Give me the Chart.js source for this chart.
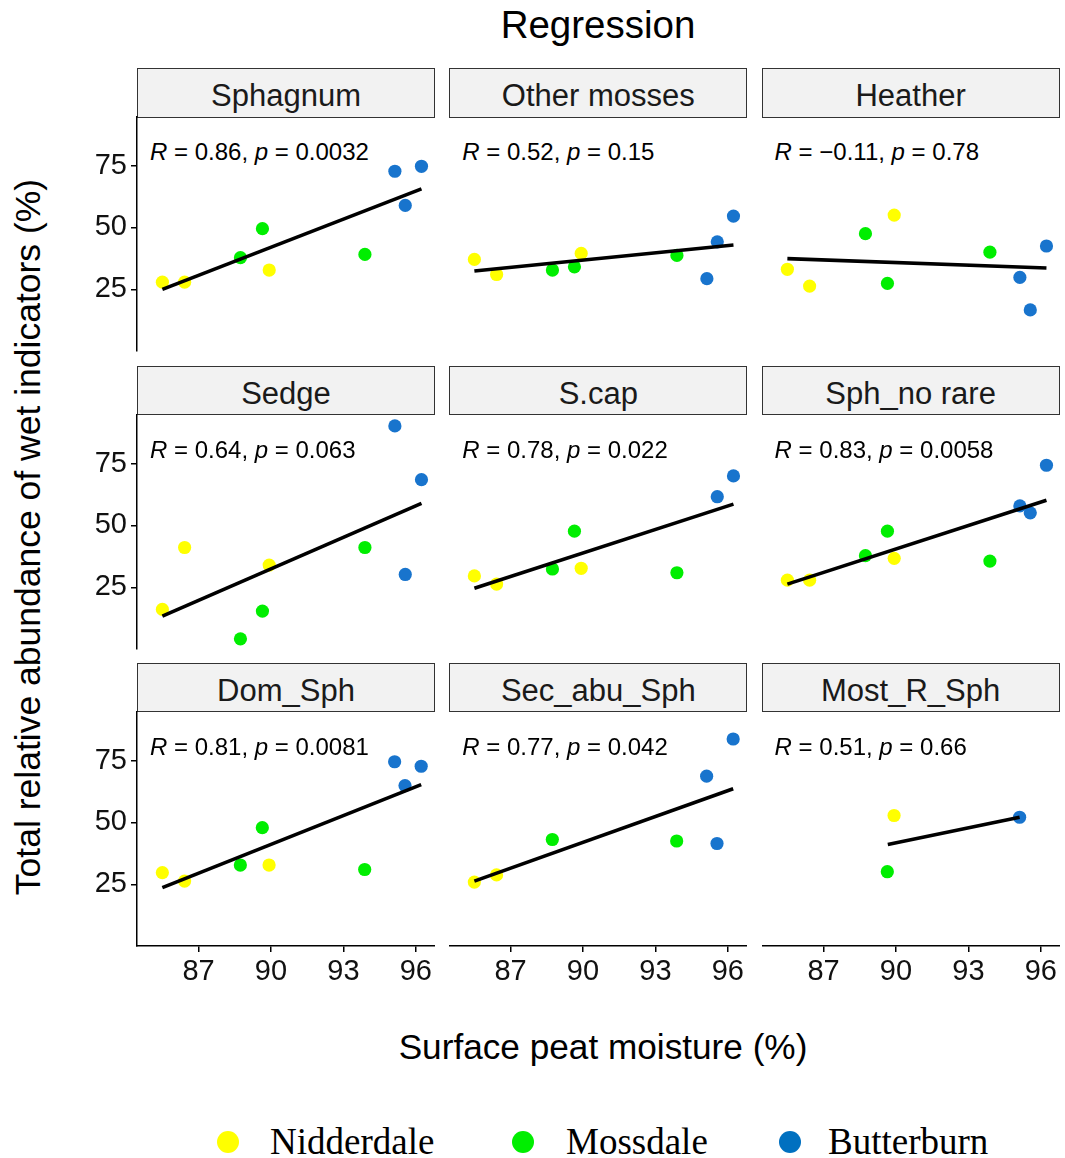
<!DOCTYPE html>
<html>
<head>
<meta charset="utf-8">
<script src="https://cdn.jsdelivr.net/npm/chart.js@4.4.1/dist/chart.umd.min.js"></script>
<style>
  html, body { margin: 0; padding: 0; background: #fff; }
  body { width: 1065px; height: 1158px; position: relative; overflow: hidden; font-family: "Liberation Sans", Arial, sans-serif; }
  .abs { position: absolute; }
  canvas { position: absolute; }
  .strip { position: absolute; box-sizing: border-box; background: #F2F2F2; border: 1.5px solid #333; color: #1A1A1A; font-size: 31px; text-align: center; }
  .rlab { position: absolute; font-size: 24px; color: #000; white-space: nowrap; line-height: 1; }
  .legtxt { position: absolute; font-family: "Liberation Serif", "Times New Roman", serif; font-size: 37px; color: #000; line-height: 1; white-space: nowrap; }
  .legdot { position: absolute; width: 22px; height: 22px; border-radius: 50%; }
</style>
</head>
<body>
<div id="root"></div>
<script>
// ---------------- DATA ----------------
const panelNames = ['Sphagnum', 'Other mosses', 'Heather', 'Sedge', 'S.cap', 'Sph_no rare', 'Dom_Sph', 'Sec_abu_Sph', 'Most_R_Sph'];
const corrLabels = [
  ['0.86', '0.0032'], ['0.52', '0.15'], ['\u22120.11', '0.78'],
  ['0.64', '0.063'], ['0.78', '0.022'], ['0.83', '0.0058'],
  ['0.81', '0.0081'], ['0.77', '0.042'], ['0.51', '0.66']
];
const siteNames = ['Nidderdale', 'Mossdale', 'Butterburn'];
// surface peat moisture (%) of the three plots per site
const xNidderdale = [85.50, 86.42, 89.92];
const xMossdale   = [88.73, 89.64, 93.88];
const xButterburn = [95.12, 95.55, 96.22];
// total relative abundance (%) per panel (null = not present)
const yNidderdale = [
  [27.9, 27.9, 32.8], [37.1, 31.0, 39.5], [33.1, 26.3, 55.0],
  [16.1, 41.1, 34.0], [29.6, 26.3, 32.7], [27.9, 27.9, 36.7],
  [29.7, 26.3, 32.8], [25.9, 28.8, null], [null, null, 52.8]
];
const yMossdale = [
  [37.8, 49.5, 39.1], [32.8, 34.1, 38.7], [47.5, 27.4, 40.0],
  [4.2, 15.4, 41.1], [32.4, 47.7, 30.9], [37.8, 47.7, 35.6],
  [32.8, 47.9, 31.0], [43.1, null, 42.5], [null, 30.1, null]
];
const yButterburn = [
  [72.7, 58.9, 74.7], [29.3, 44.2, 54.6], [29.8, 16.7, 42.5],
  [90.2, 30.2, 68.5], [null, 61.6, 70.0], [57.9, 55.1, 74.3],
  [74.5, 64.9, 72.7], [68.7, 41.5, 83.7], [52.1, null, null]
];
// fitted regression line end points per panel
const fitX = [
  [85.50, 96.22], [85.50, 96.22], [85.50, 96.22],
  [85.50, 96.22], [85.50, 96.22], [85.50, 96.22],
  [85.50, 96.22], [85.50, 96.22], [89.66, 95.12]
];
const fitY = [
  [25.0, 65.6], [32.4, 42.9], [37.4, 33.6],
  [13.4, 58.9], [24.6, 58.6], [26.3, 60.2],
  [23.7, 65.3], [26.3, 63.6], [41.1, 52.1]
];
const xTicks = [87, 90, 93, 96];
const yTicks = [25, 50, 75];
const xRange = [84.45, 96.78];
const yRange = [0.1, 94.6];

// ---------------- STYLE / LAYOUT ----------------
const siteColors = ['#FFFF00', '#00EE00', '#1874CD'];
const legendColors = ['#FFFF00', '#00EE00', '#0070C0'];
const colLeft = [137, 449.3, 761.6];
const rowTop = [117.3, 414.6, 711.9];
const plotW = 298, plotH = 234.4, stripH = 49;
const yAxisW = 60, xAxisH = 50, PAD = 26;
const FONT = '"Liberation Sans", Arial, sans-serif';

const root = document.getElementById('root');
function el(tag, cls, style, html) {
  const d = document.createElement(tag);
  if (cls) d.className = cls;
  Object.assign(d.style, style || {});
  if (html !== undefined) d.innerHTML = html;
  root.appendChild(d);
  return d;
}

// title
el('div', 'abs', { left: '0px', width: '1196px', top: '3px', textAlign: 'center', fontSize: '38.5px', lineHeight: '44px', color: '#000' }, 'Regression');
// axis titles
el('div', 'abs', { left: '0px', width: '1206px', top: '1027px', textAlign: 'center', fontSize: '35.2px', lineHeight: '40px', color: '#000' }, 'Surface peat moisture (%)');
el('div', 'abs', { left: '28px', top: '537px', fontSize: '35.5px', lineHeight: '40px', color: '#000', whiteSpace: 'nowrap', transform: 'translate(-50%,-50%) rotate(-90deg)' }, 'Total relative abundance of wet indicators (%)');

Chart.defaults.font.family = FONT;
Chart.defaults.animation = false;

panelNames.forEach((name, i) => {
  const r = Math.floor(i / 3), c = i % 3;
  const L = colLeft[c], T = rowTop[r];
  // strip
  el('div', 'strip', { left: L + 'px', top: (T - stripH) + 'px', width: plotW + 'px', height: (stripH + 0.5) + 'px', lineHeight: (stripH + 4) + 'px' }, name);
  // correlation label
  el('div', 'rlab', { left: (L + 13) + 'px', top: (T + 23) + 'px' },
     '<i>R</i> = ' + corrLabels[i][0] + ', <i>p</i> = ' + corrLabels[i][1]);

  const showY = c === 0, showX = r === 2;
  const padB = showX ? 0 : PAD;
  const cw = plotW + (showY ? yAxisW : 0);
  const ch = PAD + plotH + (showX ? xAxisH : padB);
  const cv = document.createElement('canvas');
  cv.width = Math.round(cw); cv.height = Math.round(ch);
  cv.style.left = (L - (showY ? yAxisW : 0)) + 'px';
  cv.style.top = (T - PAD) + 'px';
  cv.style.width = Math.round(cw) + 'px';
  cv.style.height = Math.round(ch) + 'px';
  root.appendChild(cv);

  const siteX = [xNidderdale, xMossdale, xButterburn];
  const siteY = [yNidderdale[i], yMossdale[i], yButterburn[i]];
  const datasets = [{
    type: 'line',
    data: fitX[i].map((x, k) => ({ x: x, y: fitY[i][k] })),
    borderColor: '#000', borderWidth: 3.6, pointRadius: 0, fill: false, order: 0, clip: false
  }];
  siteNames.forEach((sn, k) => {
    const pts = [];
    siteX[k].forEach((x, j) => { if (siteY[k][j] !== null) pts.push({ x: x, y: siteY[k][j] }); });
    datasets.push({
      type: 'scatter', label: sn, data: pts,
      backgroundColor: siteColors[k], borderColor: siteColors[k], borderWidth: 0,
      pointRadius: 6.6, order: 1, clip: false
    });
  });

  const xScale = {
    type: 'linear', min: xRange[0], max: xRange[1], display: showX,
    afterBuildTicks: (sc) => { sc.ticks = xTicks.map(v => ({ value: v })); },
    grid: { display: true, drawOnChartArea: false, drawTicks: true, tickLength: 6, color: '#000', lineWidth: 1.5 },
    border: { display: true, color: '#000', width: 1.5 },
    ticks: { font: { size: 29, family: FONT }, color: '#111', padding: 3, maxRotation: 0, autoSkip: false }
  };
  if (showX) xScale.afterFit = (sc) => { sc.height = xAxisH; };
  const yScale = {
    type: 'linear', min: yRange[0], max: yRange[1], display: showY,
    afterBuildTicks: (sc) => { sc.ticks = yTicks.map(v => ({ value: v })); },
    grid: { display: true, drawOnChartArea: false, drawTicks: true, tickLength: 6, color: '#000', lineWidth: 1.5 },
    border: { display: true, color: '#000', width: 1.5 },
    ticks: { font: { size: 29, family: FONT }, color: '#111', padding: 4, autoSkip: false }
  };
  if (showY) yScale.afterFit = (sc) => { sc.width = yAxisW; };

  new Chart(cv, {
    type: 'scatter',
    data: { datasets },
    options: {
      responsive: false,
      maintainAspectRatio: false,
      devicePixelRatio: 1,
      layout: { padding: { top: PAD, bottom: padB, left: 0, right: 0 }, autoPadding: false },
      plugins: { legend: { display: false }, tooltip: { enabled: false } },
      events: [],
      scales: { x: xScale, y: yScale }
    }
  });
});

// legend
const legDotX = [228, 523, 790];
const legTxtX = [270, 566, 828];
siteNames.forEach((sn, k) => {
  el('div', 'legdot', { left: (legDotX[k] - 11) + 'px', top: (1142 - 11) + 'px', background: legendColors[k] });
  el('div', 'legtxt', { left: legTxtX[k] + 'px', top: (1142 - 19) + 'px' }, sn);
});
</script>
</body>
</html>
